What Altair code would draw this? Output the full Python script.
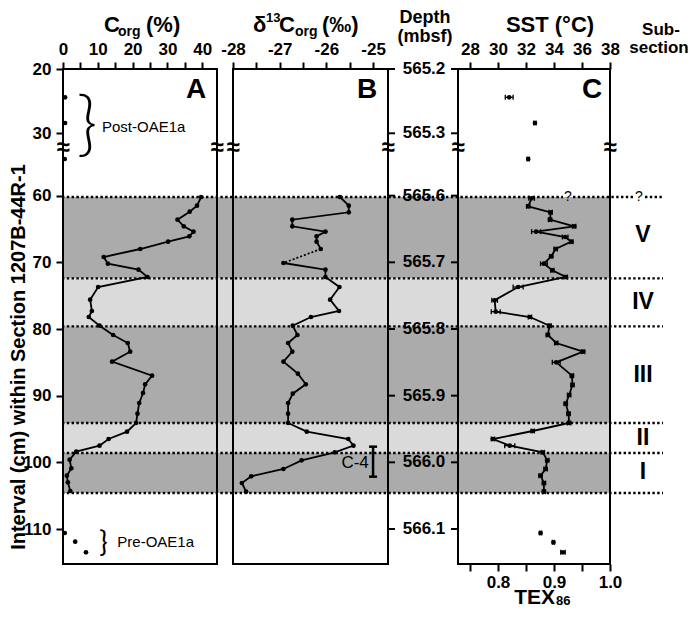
import altair as alt
import pandas as pd

FONT = "Liberation Sans"

# ---------------- data (interval in cm within Section 1207B-44R-1) ----------------
A_int = [60.2, 61.5, 62.4, 63.6, 64.6, 65.4, 66.1, 66.9, 68.0, 69.2, 70.2, 71.1, 72.2, 73.7, 75.6,
         77.3, 78.2, 79.5, 80.9, 82.1, 83.4, 84.9, 87.0, 88.3, 89.6, 91.1, 92.7, 94.1, 95.4, 96.5,
         97.5, 98.4, 99.6, 100.9, 102.0, 103.0, 104.3]
A_corg = [39.7, 38.5, 36.4, 32.9, 34.7, 37.5, 36.3, 30.2, 22.2, 11.7, 12.9, 21.7, 24.3, 10.1, 7.8,
          8.3, 7.4, 10.5, 14.4, 18.6, 19.3, 14.1, 25.6, 23.6, 23.0, 21.9, 21.4, 21.0, 18.4, 13.1,
          10.5, 3.8, 1.9, 2.4, 1.1, 1.4, 2.1]
A_post_int = [24.4, 28.4, 34.0]
A_post_corg = [0.6, 0.6, 0.5]
A_pre_int = [110.6, 111.9, 113.5]
A_pre_corg = [0.5, 3.5, 6.6]

B_int_upper = [60.2, 61.5, 62.5, 63.6, 64.6, 65.4, 66.1, 66.9, 68.0]
B_d13c_upper = [-25.71, -25.52, -25.52, -26.73, -26.73, -26.02, -26.21, -26.21, -26.12]
B_int_lower = [70.1, 71.1, 72.2, 73.7, 75.6, 77.3, 78.2, 79.5, 80.9, 82.1, 83.4, 84.9, 86.7, 88.3,
               89.7, 91.1, 92.7, 94.1, 95.4, 96.5, 97.5, 98.5, 99.7, 101.0, 102.1, 103.1, 104.4]
B_d13c_lower = [-26.92, -26.02, -26.02, -25.72, -25.92, -25.73, -26.33, -26.72, -26.62, -26.82,
                -26.73, -26.92, -26.61, -26.44, -26.72, -26.82, -26.82, -26.82, -26.42, -25.53,
                -25.42, -25.82, -26.53, -26.92, -27.61, -27.81, -27.72]

C_int = [60.4, 61.6, 62.5, 63.6, 64.6, 65.4, 66.2, 66.9, 68.0, 69.1, 70.2, 71.2, 72.2, 73.7, 75.7,
         77.4, 78.2, 79.5, 80.9, 82.1, 83.4, 85.0, 87.0, 88.4, 89.9, 91.2, 92.7, 94.1, 95.3, 96.5,
         97.5, 98.5, 99.7, 101.0, 102.0, 103.1, 104.4]
C_tex = [0.860, 0.854, 0.894, 0.893, 0.936, 0.868, 0.920, 0.931, 0.903, 0.895, 0.882, 0.897, 0.921,
         0.836, 0.794, 0.796, 0.857, 0.892, 0.889, 0.904, 0.952, 0.904, 0.932, 0.933, 0.927, 0.921,
         0.926, 0.927, 0.862, 0.791, 0.821, 0.880, 0.888, 0.885, 0.876, 0.882, 0.882]
C_err = [0.005, 0.003, 0.003, 0.003, 0.003, 0.008, 0.005, 0.003, 0.003, 0.003, 0.006, 0.003, 0.003,
         0.009, 0.005, 0.008, 0.003, 0.003, 0.003, 0.003, 0.003, 0.007, 0.003, 0.003, 0.003, 0.003,
         0.003, 0.003, 0.003, 0.003, 0.009, 0.003, 0.003, 0.003, 0.003, 0.003, 0.003]
C_post_int = [24.4, 28.4, 34.0]
C_post_tex = [0.820, 0.866, 0.854]
C_post_err = [0.007, 0.002, 0.002]
C_pre_int = [110.6, 112.0, 113.5]
C_pre_tex = [0.876, 0.899, 0.916]
C_pre_err = [0.002, 0.002, 0.004]

band_top = [60.2, 72.4, 79.6, 94.1, 98.6]
band_bot = [72.4, 79.6, 94.1, 98.6, 104.6]
band_kind = ["dark", "light", "dark", "light", "dark"]
boundary_int = [72.4, 79.6, 94.1, 98.6, 104.6]
top_boundary_int = 60.2
sub_labels = ["V", "IV", "III", "II", "I"]
sub_label_int = [65.9, 75.9, 86.9, 96.3, 101.5]

interval_ticks = [20, 30, 60, 70, 80, 90, 100, 110]
depth_labels = ["565.2", "565.3", "565.6", "565.7", "565.8", "565.9", "566.0", "566.1"]

c4_top, c4_bot, c4_label_int = 97.65, 102.15, 100.1

# ---------------- broken interval axis ----------------
K_UP = 0.9645   # upper (post-OAE1a) segment drawn slightly compressed
SHIFT = 21      # cm cut out by the axis break


def to_pos(v):
    return 20 + (v - 20) * K_UP if v < 45 else v - SHIFT


W, H = 601, 495
Y_LO, Y_HI = 20, 94.25
BREAK_POS = 31.8
TICK_FS = 17

YS = alt.Scale(domain=[Y_LO, Y_HI], range=[0, H], nice=False, zero=False)
YAX = alt.Axis(orient="left", values=[to_pos(v) for v in interval_ticks],
               labelExpr="datum.value < 35 ? format(round(20 + (datum.value - 20) / 0.9645), 'd') : format(round(datum.value + 21), 'd')",
               grid=False, domain=False, tickSize=6, tickWidth=2, tickColor="black",
               labelFont=FONT, labelFontSize=TICK_FS, labelFontWeight="bold", labelColor="black",
               labelPadding=5, labelOverlap=False, labelFlush=False, title=None)


def Y(field="pos"):
    return alt.Y(field, type="quantitative", scale=YS, axis=YAX)


def top_axis(values, expr):
    return alt.Axis(orient="top", values=values, labelExpr=expr, grid=False, domain=False,
                    tickSize=7, tickWidth=2, tickColor="black", labelFont=FONT, labelFontSize=TICK_FS,
                    labelFontWeight="bold", labelColor="black", labelPadding=4, labelOverlap=False,
                    labelFlush=False, title=None)


ONE = pd.DataFrame({"one": [0]})


def label(text, x, y, size, weight="bold", align="left", baseline="alphabetic", angle=0, font=FONT):
    return alt.Chart(ONE).mark_text(text=text, fontSize=size, fontWeight=weight, align=align,
                                    baseline=baseline, font=font, color="black", angle=angle).encode(
        x=alt.value(x), y=alt.value(y))


# ---------------- background bands and boundary lines ----------------
bands_df = pd.DataFrame({"pos": [to_pos(v) for v in band_top], "pos2": [to_pos(v) for v in band_bot],
                         "kind": band_kind})
bands = alt.Chart(bands_df).mark_rect().encode(
    x=alt.value(0), x2=alt.value(548), y=Y(), y2="pos2",
    color=alt.Color("kind:N", scale=alt.Scale(domain=["dark", "light"], range=["#ababab", "#dadada"]),
                    legend=None))

bound_df = pd.DataFrame({"pos": [to_pos(v) for v in boundary_int]})
dotted = dict(color="black", strokeWidth=2.4, strokeDash=[2.4, 2.4])
bounds = alt.Chart(bound_df).mark_rule(**dotted).encode(x=alt.value(0), x2=alt.value(W), y=Y())
top_df = pd.DataFrame({"pos": [to_pos(top_boundary_int)]})
top_lines = [alt.Chart(top_df).mark_rule(**dotted).encode(x=alt.value(a), x2=alt.value(b), y=Y())
             for a, b in [(0, 501), (511, 571), (583, W)]]
qmarks = alt.Chart(pd.DataFrame({"pos": [to_pos(top_boundary_int)] * 2, "q": ["?", "?"],
                                 "k": [0, 1]})).mark_text(
    fontSize=14, font=FONT, color="black", baseline="middle").encode(
    x=alt.X("k:Q", scale=alt.Scale(domain=[0, 1], range=[506, 577]), axis=None), y=Y(), text="q:N")

sub_df = pd.DataFrame({"pos": [to_pos(v) for v in sub_label_int], "lab": sub_labels})
subs = alt.Chart(sub_df).mark_text(fontSize=23, fontWeight="bold", font=FONT, color="black",
                                   baseline="middle").encode(x=alt.value(581), y=Y(), text="lab:N")

# ---------------- panel A : Corg ----------------
A_DOM = [0, 44.25]
XA_S = alt.Scale(domain=A_DOM, range=[1, 155], nice=False, zero=False)
XA_AX = top_axis(list(range(0, 45, 5)), "datum.value % 10 == 0 ? format(datum.value, 'd') : ''")


def XA(f):
    return alt.X(f, type="quantitative", scale=XA_S, axis=XA_AX)


dfA = pd.DataFrame({"v": A_corg, "pos": [to_pos(v) for v in A_int]})
dfA_iso = pd.DataFrame({"v": A_post_corg + A_pre_corg,
                        "pos": [to_pos(v) for v in A_post_int + A_pre_int]})
frameA_df = pd.DataFrame({"x0": [A_DOM[0]], "x1": [A_DOM[1]], "pos": [Y_LO], "pos2": [Y_HI]})
breakA_df = pd.DataFrame({"v": A_DOM, "pos": [BREAK_POS] * 2})

panelA = alt.layer(
    alt.Chart(frameA_df).mark_rect(fillOpacity=0, stroke="black", strokeWidth=2).encode(
        x=XA("x0"), x2="x1", y=Y(), y2="pos2"),
    alt.Chart(breakA_df).mark_text(text="≈", fontSize=24, fontWeight="bold", font=FONT,
                                   baseline="middle").encode(x=XA("v"), y=Y()),
    alt.Chart(dfA).mark_line(color="black", strokeWidth=1.8).encode(
        x=XA("v"), y=Y(), order=alt.Order("pos:Q")),
    alt.Chart(dfA).mark_circle(size=22, color="black", opacity=1).encode(x=XA("v"), y=Y()),
    alt.Chart(dfA_iso).mark_circle(size=22, color="black", opacity=1).encode(x=XA("v"), y=Y()),
    alt.Chart(pd.DataFrame({"v": [6.9], "pos": [to_pos(29.0)]})).mark_text(
        text="}", fontSize=70, font="Lato", fontWeight=300, baseline="middle").encode(
        x=XA("v"), y=Y()),
    alt.Chart(pd.DataFrame({"v": [11.2], "pos": [to_pos(29.0)]})).mark_text(
        text="Post-OAE1a", fontSize=15, font=FONT, align="left", baseline="middle").encode(
        x=XA("v"), y=Y()),
    alt.Chart(pd.DataFrame({"v": [11.6], "pos": [to_pos(112.2)]})).mark_text(
        text="}", fontSize=28, font="Lato", fontWeight=400, baseline="middle").encode(
        x=XA("v"), y=Y()),
    alt.Chart(pd.DataFrame({"v": [15.6], "pos": [to_pos(112.0)]})).mark_text(
        text="Pre-OAE1a", fontSize=15, font=FONT, align="left", baseline="middle").encode(
        x=XA("v"), y=Y()),
)

# ---------------- panel B : d13C ----------------
B_DOM = [-28, -24.68]
XB_S = alt.Scale(domain=B_DOM, range=[171, 326], nice=False, zero=False)
XB_AX = top_axis([-28, -27.5, -27, -26.5, -26, -25.5, -25],
                 "datum.value % 1 == 0 ? '-' + format(abs(datum.value), 'd') : ''")


def XB(f):
    return alt.X(f, type="quantitative", scale=XB_S, axis=XB_AX)


dfB = pd.DataFrame({"v": B_d13c_upper + B_d13c_lower,
                    "pos": [to_pos(v) for v in B_int_upper + B_int_lower],
                    "seg": ["u"] * len(B_int_upper) + ["l"] * len(B_int_lower)})
dfB_gap = pd.DataFrame({"v": [B_d13c_upper[-1], B_d13c_lower[0]],
                        "pos": [to_pos(B_int_upper[-1]), to_pos(B_int_lower[0])]})
frameB_df = pd.DataFrame({"x0": [B_DOM[0]], "x1": [B_DOM[1]], "pos": [Y_LO], "pos2": [Y_HI]})
breakB_df = pd.DataFrame({"v": B_DOM, "pos": [BREAK_POS] * 2})
c4_df = pd.DataFrame({"v": [-25.0], "pos": [to_pos(c4_top)], "pos2": [to_pos(c4_bot)]})
c4_caps = pd.DataFrame({"v": [-25.086, -25.086], "v2": [-24.914, -24.914],
                        "pos": [to_pos(c4_top), to_pos(c4_bot)]})

panelB = alt.layer(
    alt.Chart(frameB_df).mark_rect(fillOpacity=0, stroke="black", strokeWidth=2).encode(
        x=XB("x0"), x2="x1", y=Y(), y2="pos2"),
    alt.Chart(breakB_df).mark_text(text="≈", fontSize=24, fontWeight="bold", font=FONT,
                                   baseline="middle").encode(x=XB("v"), y=Y()),
    alt.Chart(dfB).mark_line(color="black", strokeWidth=1.8).encode(
        x=XB("v"), y=Y(), detail="seg:N", order=alt.Order("pos:Q")),
    alt.Chart(dfB_gap).mark_line(color="black", strokeWidth=1.8, strokeDash=[2, 2]).encode(
        x=XB("v"), y=Y(), order=alt.Order("pos:Q")),
    alt.Chart(dfB).mark_circle(size=22, color="black", opacity=1).encode(x=XB("v"), y=Y()),
    alt.Chart(c4_df).mark_rule(color="black", strokeWidth=2.5).encode(x=XB("v"), y=Y(), y2="pos2"),
    alt.Chart(c4_caps).mark_rule(color="black", strokeWidth=2.5).encode(x=XB("v"), x2="v2", y=Y()),
    alt.Chart(pd.DataFrame({"v": [-25.07], "pos": [to_pos(c4_label_int)]})).mark_text(
        text="C-4", fontSize=17, font=FONT, align="right", baseline="middle", dx=-1).encode(
        x=XB("v"), y=Y()),
)

# ---------------- panel C : TEX86 (bottom) / SST (top) ----------------
C_DOM = [0.7286, 1.0]
XC_S = alt.Scale(domain=C_DOM, range=[396, 548], nice=False, zero=False)
XC_AX = alt.Axis(orient="bottom", values=[0.75, 0.8, 0.85, 0.9, 0.95, 1.0],
                 labelExpr="abs(datum.value * 10 - round(datum.value * 10)) < 0.001 ? format(datum.value, '.1f') : ''",
                 grid=False, domain=False, tickSize=7, tickWidth=2, tickColor="black",
                 labelFont=FONT, labelFontSize=TICK_FS, labelFontWeight="bold", labelColor="black",
                 labelPadding=3, labelOverlap=False, labelFlush=False, title=None)


def XC(f):
    return alt.X(f, type="quantitative", scale=XC_S, axis=XC_AX)


dfC = pd.DataFrame({"v": C_tex, "pos": [to_pos(v) for v in C_int]})
all_tex = C_post_tex + C_tex + C_pre_tex
all_err = C_post_err + C_err + C_pre_err
all_int = C_post_int + C_int + C_pre_int
dfC_all = pd.DataFrame({"v": all_tex, "pos": [to_pos(v) for v in all_int],
                        "lo": [t - e for t, e in zip(all_tex, all_err)],
                        "hi": [t + e for t, e in zip(all_tex, all_err)]})
breakC_df = pd.DataFrame({"v": C_DOM, "pos": [BREAK_POS] * 2})

panelC = alt.layer(
    alt.Chart(breakC_df).mark_text(text="≈", fontSize=24, fontWeight="bold", font=FONT,
                                   baseline="middle").encode(x=XC("v"), y=Y()),
    alt.Chart(dfC).mark_line(color="black", strokeWidth=1.8).encode(
        x=XC("v"), y=Y(), order=alt.Order("pos:Q")),
    alt.Chart(dfC_all).mark_rule(color="black", strokeWidth=1.3).encode(x=XC("lo"), x2="hi", y=Y()),
    alt.Chart(dfC_all).mark_tick(orient="vertical", size=5, thickness=1.3, color="black",
                                 opacity=1).encode(x=XC("lo"), y=Y()),
    alt.Chart(dfC_all).mark_tick(orient="vertical", size=5, thickness=1.3, color="black",
                                 opacity=1).encode(x=XC("hi"), y=Y()),
    alt.Chart(dfC_all).mark_circle(size=22, color="black", opacity=1).encode(x=XC("v"), y=Y()),
)

SST_DOM = [27.14, 38]
XS_S = alt.Scale(domain=SST_DOM, range=[396, 548], nice=False, zero=False)
XS_AX = top_axis([28, 30, 32, 34, 36, 38], "format(datum.value, 'd')")
frameC_df = pd.DataFrame({"x0": [SST_DOM[0]], "x1": [SST_DOM[1]], "pos": [Y_LO], "pos2": [Y_HI]})
panelC_sst = alt.Chart(frameC_df).mark_rect(fillOpacity=0, stroke="black", strokeWidth=2).encode(
    x=alt.X("x0", type="quantitative", scale=XS_S, axis=XS_AX), x2="x1", y=Y(), y2="pos2")

# ---------------- depth (mbsf) axis between B and C ----------------
depth_df = pd.DataFrame({"pos": [to_pos(v) for v in interval_ticks], "lab": depth_labels})
depth_text = alt.Chart(depth_df).mark_text(fontSize=TICK_FS, fontWeight="bold", font=FONT,
                                           color="black", baseline="middle").encode(
    x=alt.value(362), y=Y(), text="lab:N")
depth_ticks_B = alt.Chart(depth_df).mark_rule(color="black", strokeWidth=2).encode(
    x=alt.value(326), x2=alt.value(333), y=Y())
depth_ticks_C = alt.Chart(depth_df).mark_rule(color="black", strokeWidth=2).encode(
    x=alt.value(389), x2=alt.value(396), y=Y())

# ---------------- titles ----------------
titles = [
    label("C", 42, -37, 22),
    label("org", 56, -33, 14),
    label("(%)", 84, -37, 22),
    label("δ", 191, -37, 22),
    label("13", 204, -47, 13),
    label("C", 217, -37, 22),
    label("org", 233, -33, 14),
    label("(‰)", 260, -37, 22),
    label("Depth", 363, -46, 18, align="center"),
    label("(mbsf)", 363, -27, 18, align="center"),
    label("SST (°C)", 488, -37, 22, align="center"),
    label("Sub-", 599, -34, 17, align="center"),
    label("section", 597, -16, 17, align="center"),
    label("TEX", 493, 535, 21, align="right"),
    label("86", 494, 536, 13),
    label("A", 134, 29, 28, align="center"),
    label("B", 305, 29, 28, align="center"),
    label("C", 530, 29, 28, align="center"),
    label("Interval (cm) within Section 1207B-44R-1", -43, 288, 20, align="center",
          baseline="middle", angle=270),
]

chart = alt.layer(
    bands, bounds, *top_lines, qmarks, subs,
    panelA, panelB, panelC, panelC_sst,
    depth_ticks_B, depth_ticks_C, depth_text,
    *titles,
).resolve_scale(x="independent").properties(
    width=W, height=H,
    padding={"left": 54, "top": 61, "right": 26, "bottom": 45},
    autosize=alt.AutoSizeParams(type="none"),
).configure_view(strokeWidth=0)

chart.save("out.html", embed_options={"renderer": "svg", "actions": False})
